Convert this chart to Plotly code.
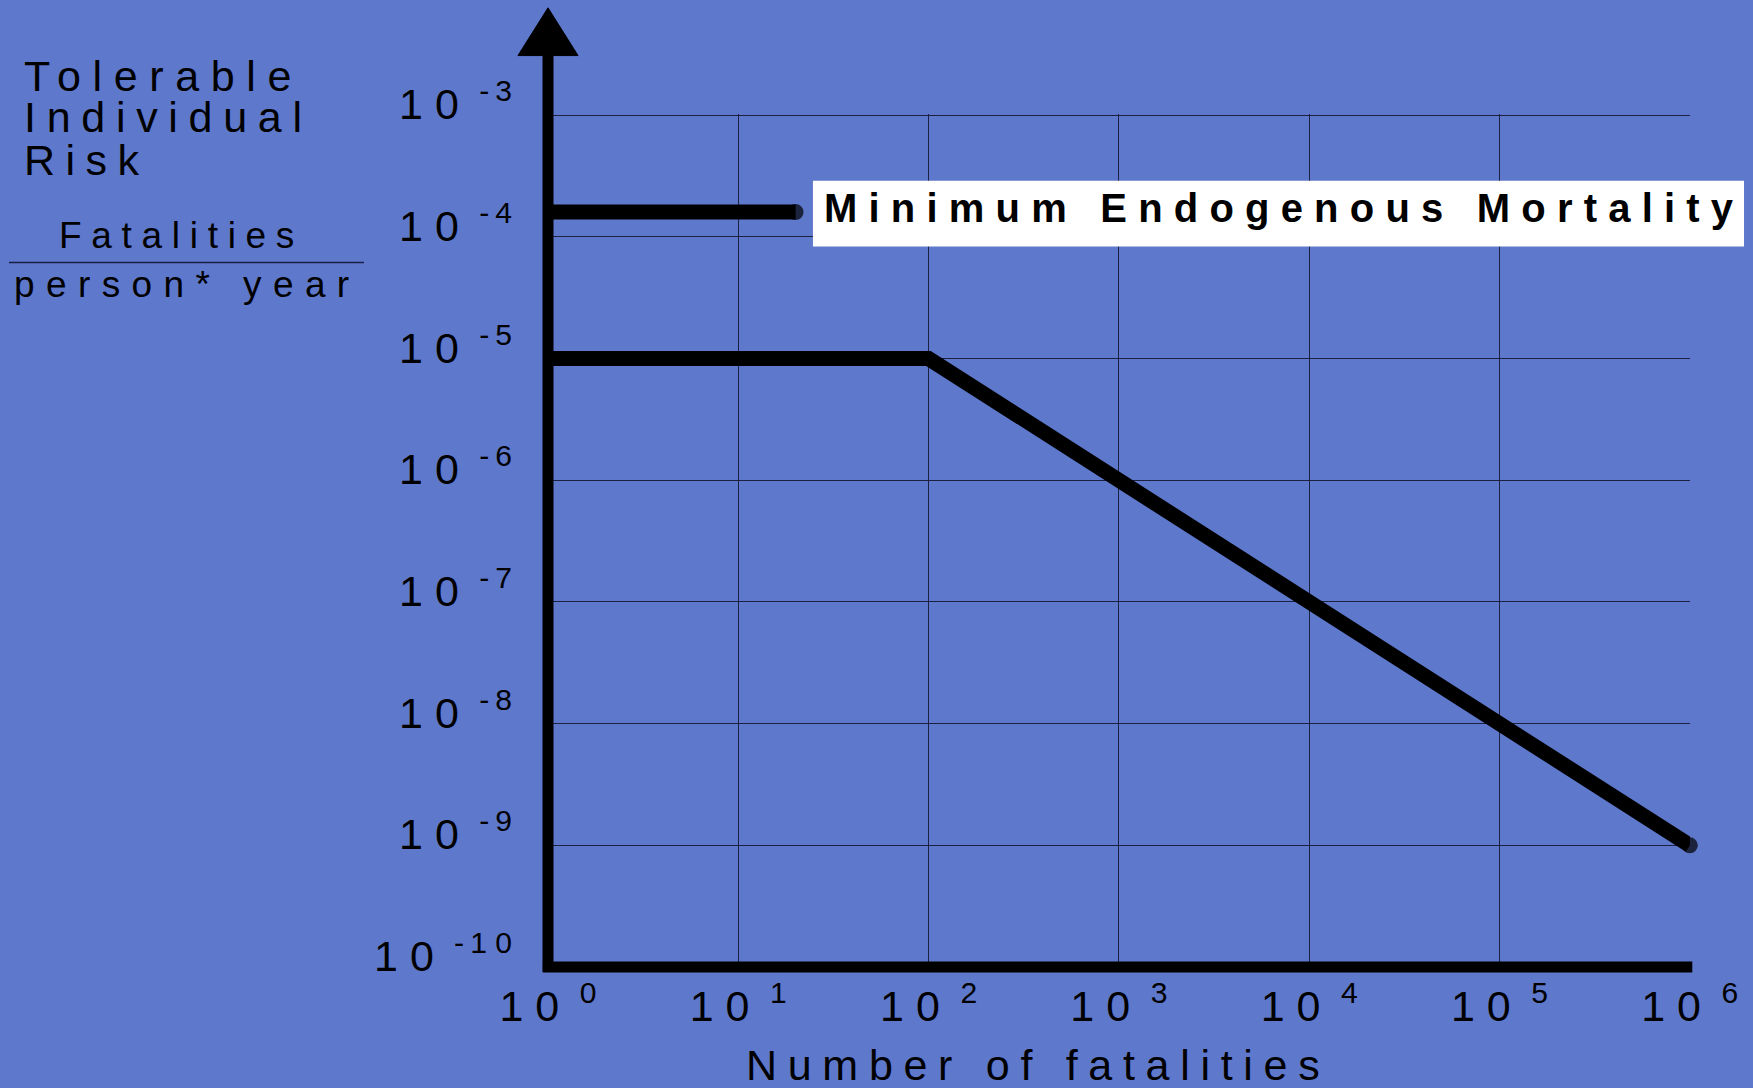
import plotly.graph_objects as go

TS = "\u2009"  # thin space

# ---- data ----
x_ticks = [1, 10, 100, 1000, 10000, 100000, 1000000]
x_exponents = ["0", "1", "2", "3", "4", "5", "6"]
y_ticks = [1e-10, 1e-9, 1e-8, 1e-7, 1e-6, 1e-5, 1e-4, 1e-3]
y_exponents = ["-1 0", "-9", "-8", "-7", "-6", "-5", "-4", "-3"]

tolerable_x = [1, 100, 1000000]
tolerable_y = [1e-5, 1e-5, 1e-9]

endogenous_x = [1, 20]
endogenous_y = [1.6e-4, 1.6e-4]
endogenous_label = "Minimum Endogenous Mortality"

x_tick_labels = [f"1 0{TS} <sup>{e}</sup>" for e in x_exponents]
y_tick_labels = [f"1 0&nbsp;<sup>&nbsp;{e.replace('-', '-' + TS)}</sup>" for e in y_exponents]

BG = "#5e78cc"
GRID = "#1c2042"
FONT = "Liberation Sans, Arial, sans-serif"


def spaced(text, px):
    return f'<span style="letter-spacing:{px}px">{text}</span>'


fig = go.Figure()

fig.add_trace(go.Scatter(
    x=tolerable_x, y=tolerable_y, mode="lines+markers",
    line=dict(color="black", width=15),
    marker=dict(color="black", size=[0, 0, 16], line=dict(width=0)),
    cliponaxis=False, hoverinfo="skip", showlegend=False))

fig.add_trace(go.Scatter(
    x=endogenous_x, y=endogenous_y, mode="lines+markers",
    line=dict(color="black", width=15),
    marker=dict(color="black", size=[0, 16], line=dict(width=0)),
    cliponaxis=False, hoverinfo="skip", showlegend=False))

# axes with arrow (paper coords)
fig.add_shape(type="line", xref="paper", yref="paper", x0=0, x1=0, y0=-0.006, y1=1.069,
              line=dict(color="black", width=11), layer="above")
fig.add_shape(type="line", xref="paper", yref="paper", x0=-0.0045, x1=1.002, y0=0, y1=0,
              line=dict(color="black", width=11), layer="above")
fig.add_shape(type="path", xref="paper", yref="paper",
              path="M -0.0263 1.0685 L 0.0263 1.0685 L 0 1.1245 Z",
              fillcolor="black", line=dict(color="black", width=1), layer="above")

# label box
fig.add_shape(type="rect", xref="paper", yref="paper", x0=0.232, x1=1.0473, y0=0.8446, y1=0.9218,
              fillcolor="white", line=dict(width=0), layer="above")
fig.add_annotation(xref="paper", yref="paper", x=0.2399, y=0.8895, xanchor="left", yanchor="middle",
                   text="<b>" + spaced(endogenous_label, 11.2) + "</b>", showarrow=False,
                   font=dict(family=FONT, size=40, color="black"))

# y title
for txt, y, sp in [("Tolerable", 1.0445, 11.6), ("Individual", 0.997, 10.7), ("Risk", 0.9455, 10.5)]:
    fig.add_annotation(xref="paper", yref="paper", x=-0.461, y=y, xanchor="left", yanchor="middle",
                       text=spaced(txt, sp), showarrow=False,
                       font=dict(family=FONT, size=43, color="black"))
fig.add_annotation(xref="paper", yref="paper", x=-0.3206, y=0.8573, xanchor="center", yanchor="middle",
                   text=spaced("Fatalities", 9.7), showarrow=False,
                   font=dict(family=FONT, size=37, color="black"))
fig.add_shape(type="line", xref="paper", yref="paper", x0=-0.472, x1=-0.1611, y0=0.8258, y1=0.8258,
              line=dict(color="#1a1f45", width=1.5))
fig.add_annotation(xref="paper", yref="paper", x=-0.3153, y=0.7999, xanchor="center", yanchor="middle",
                   text=spaced("person* year", 11.4), showarrow=False,
                   font=dict(family=FONT, size=37, color="black"))

# x title
fig.add_annotation(xref="paper", yref="paper", x=0.4294, y=-0.1148, xanchor="center", yanchor="middle",
                   text=spaced("Number of fatalities", 10.7), showarrow=False,
                   font=dict(family=FONT, size=43, color="black"))

fig.update_xaxes(type="log", range=[0, 6.001], tickvals=x_ticks, ticktext=x_tick_labels,
                 showgrid=True, gridcolor=GRID, gridwidth=1, zeroline=False, showline=False,
                 ticks="", ticklabelstandoff=10,
                 tickfont=dict(family=FONT, size=43, color="black"))
fig.update_yaxes(type="log", range=[-10, -2.99], tickvals=y_ticks, ticktext=y_tick_labels,
                 showgrid=True, gridcolor=GRID, gridwidth=1, zeroline=False, showline=False,
                 ticks="", ticklabelstandoff=35, ticklabelshift=-11,
                 tickfont=dict(family=FONT, size=43, color="black"))

fig.update_layout(width=1753, height=1088, autosize=False,
                  margin=dict(l=548, r=63, t=114, b=121, pad=0),
                  paper_bgcolor=BG, plot_bgcolor=BG, showlegend=False)

fig.write_html("out.html", config={"displayModeBar": False},
               post_script="document.body.style.margin='0';document.body.style.overflow='hidden';")
